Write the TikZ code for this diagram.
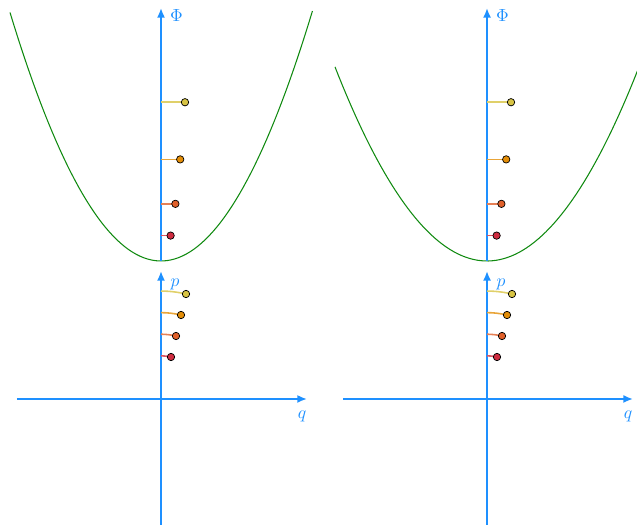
\documentclass[tikz,border=0pt]{standalone}
\usepackage{xcolor}
\usepackage{tikz}
\usetikzlibrary{arrows.meta,calc}
\definecolor{axisblue}{HTML}{1E90FF}
\definecolor{wellgreen}{HTML}{108A10}
\definecolor{lvltwo}  {HTML}{D02C40}
\definecolor{lvlthree}{HTML}{E0602A}
\definecolor{lvlfour} {HTML}{E48E08}
\definecolor{lvlfive} {HTML}{D8C444}
\tikzset{
  axisline/.style={color=axisblue,line width=1.2pt,-{Latex[length=5.5pt,width=4.6pt]}},
  wellcurve/.style={color=wellgreen,line width=0.6pt},
  trail/.style={color=#1!80!white,line width=0.9pt},
  dot/.style={circle,draw=black,line width=0.4pt,fill=#1,inner sep=0pt,minimum size=4.2pt}
}
\begin{document}
\begin{tikzpicture}[x=1cm,y=1cm]
  \useasboundingbox (-3.22,-2.54) rectangle (9.52,7.98);
  \foreach \xs/\k/\lo/\hi/\tag in {0/0.545/-3.02/3.03/L,6.52/0.42/-3.04/3.02/R}{
    \draw[wellcurve] plot[domain=\lo:\hi,samples=80] ({\xs+\x},{2.76+\k*\x*\x});
    \coordinate (qs\tag) at (\xs-2.88,0);
    \coordinate (qe\tag) at (\xs+2.92,0);
    \coordinate (ps\tag) at (\xs,-2.52);
    \coordinate (pe\tag) at (\xs,2.56);
    \coordinate (fs\tag) at (\xs,2.76);
    \coordinate (fe\tag) at (\xs,7.82);
    \draw[axisline] (qs\tag) -- (qe\tag);
    \draw[axisline] (ps\tag) -- (pe\tag);
    \draw[axisline] (fs\tag) -- (fe\tag);
    \node[color=axisblue] (phi\tag) at (\xs+0.31,7.66) {$\Phi$};
    \node[color=axisblue] (p\tag) at (\xs+0.28,2.3) {$p$};
    \node[color=axisblue] (q\tag) at (\xs+2.82,-0.34) {$q$};
    % levels n = 2..5
    \foreach \n/\c in {2/lvltwo,3/lvlthree,4/lvlfour,5/lvlfive}{
      \pgfmathsetmacro{\r}{0.4317*\n}
      \pgfmathsetmacro{\lev}{2.76+0.127*\n*\n}
      \coordinate (ax\tag\n) at (\xs,\lev);
      \coordinate (en\tag\n) at (\xs+0.096*\n,\lev);
      \draw[trail=\c] (ax\tag\n) -- (en\tag\n);
      \node[dot=\c] (up\tag\n) at (en\tag\n) {};
      \draw[trail=\c] (\xs,\r) arc[start angle=90,end angle=76.61,radius=\r]
           coordinate (ph\tag\n);
      \node[dot=\c] (lo\tag\n) at (ph\tag\n) {};}
  }
\end{tikzpicture}
\end{document}
